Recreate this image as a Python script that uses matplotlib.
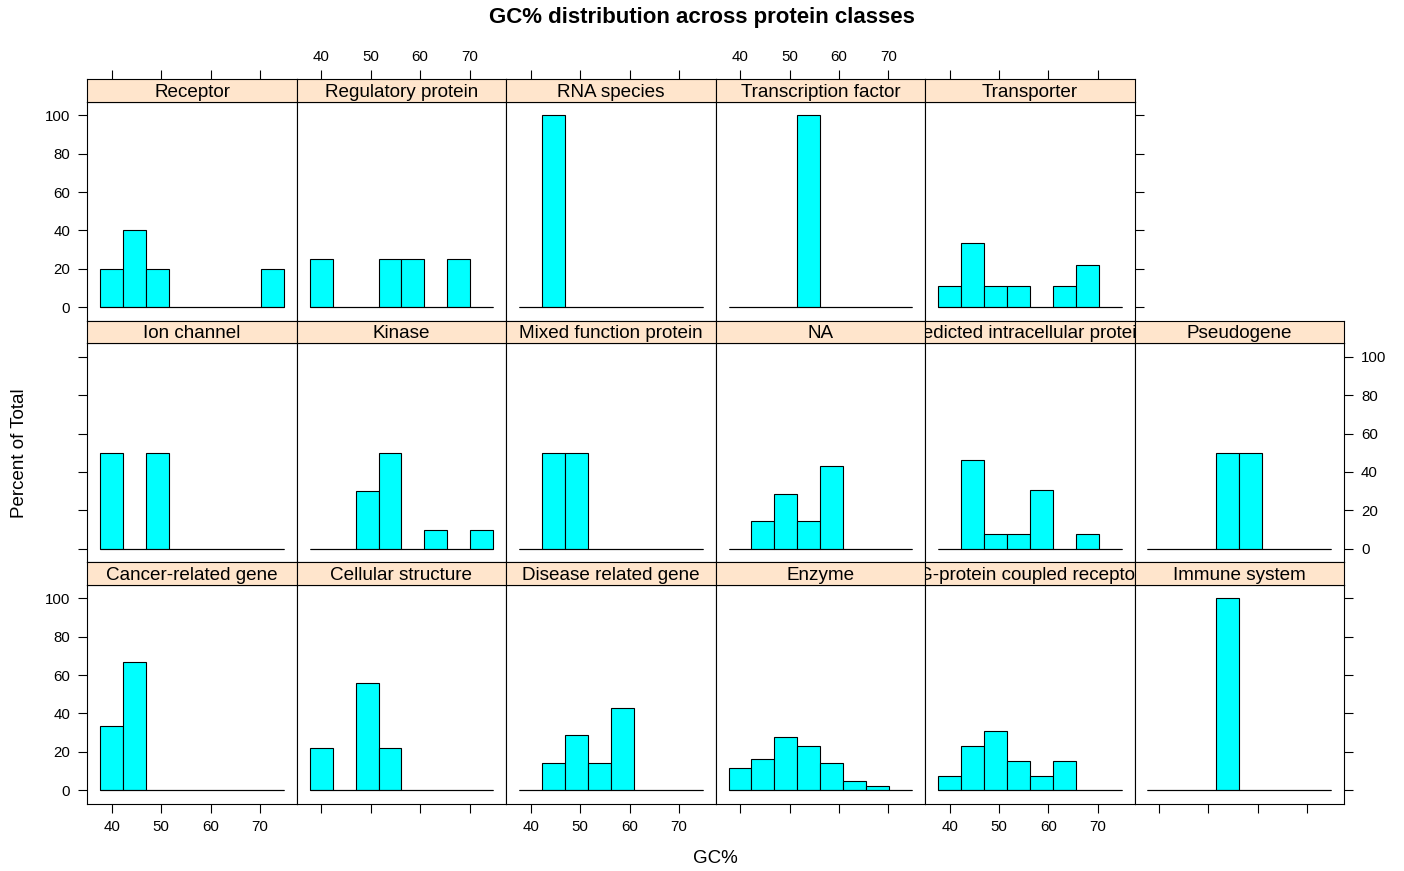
import numpy as np
import matplotlib
matplotlib.use("Agg")
import matplotlib.pyplot as plt

plt.rcParams['font.family'] = ['Liberation Sans', 'DejaVu Sans']

# ---- data (percent of total per GC% bin) ----
bin_edges = np.linspace(37.65, 74.82, 9)
x_ticks = [40, 50, 60, 70]
y_ticks = [0, 20, 40, 60, 80, 100]

# rows listed bottom -> top, as lattice does
row_bottom = ["Cancer-related gene", "Cellular structure", "Disease related gene",
              "Enzyme", "G-protein coupled receptor", "Immune system"]
row_middle = ["Ion channel", "Kinase", "Mixed function protein", "NA",
              "Predicted intracellular proteins", "Pseudogene"]
row_top = ["Receptor", "Regulatory protein", "RNA species",
           "Transcription factor", "Transporter"]

percent = {
    "Cancer-related gene":            [33.3, 66.7, 0, 0, 0, 0, 0, 0],
    "Cellular structure":             [22.2, 0, 55.6, 22.2, 0, 0, 0, 0],
    "Disease related gene":           [0, 14.3, 28.6, 14.3, 42.9, 0, 0, 0],
    "Enzyme":                         [11.6, 16.3, 27.9, 23.3, 14.0, 4.7, 2.3, 0],
    "G-protein coupled receptor":     [7.7, 23.1, 30.8, 15.4, 7.7, 15.4, 0, 0],
    "Immune system":                  [0, 0, 0, 100, 0, 0, 0, 0],
    "Ion channel":                    [50, 0, 50, 0, 0, 0, 0, 0],
    "Kinase":                         [0, 0, 30, 50, 0, 10, 0, 10],
    "Mixed function protein":         [0, 50, 50, 0, 0, 0, 0, 0],
    "NA":                             [0, 14.3, 28.6, 14.3, 42.9, 0, 0, 0],
    "Predicted intracellular proteins": [0, 46.2, 7.7, 7.7, 30.8, 0, 7.7, 0],
    "Pseudogene":                     [0, 0, 0, 50, 50, 0, 0, 0],
    "Receptor":                       [20, 40, 20, 0, 0, 0, 0, 20],
    "Regulatory protein":             [25, 0, 0, 25, 25, 0, 25, 0],
    "RNA species":                    [0, 100, 0, 0, 0, 0, 0, 0],
    "Transcription factor":           [0, 0, 0, 100, 0, 0, 0, 0],
    "Transporter":                    [11.1, 33.3, 11.1, 11.1, 0, 11.1, 22.2, 0],
}

W, H = 1404, 871
fig = plt.figure(figsize=(W / 100, H / 100), dpi=100)

left_px, right_px = 87.3, 1344.0
col_w = (right_px - left_px) / 6
top_px = 79.3
strip_h = 22.4
panel_h = 219.1
row_h = strip_h + panel_h

xlim = (35.05, 77.42)
ylim = (-7, 107)
lw = 0.8
tick_len = 6.3
tick_fs = 10.8

rows_top_down = [row_top, row_middle, row_bottom]

for ri, row in enumerate(rows_top_down):
    for ci, name in enumerate(row):
        x0 = left_px + ci * col_w
        ys = top_px + ri * row_h
        yp = ys + strip_h
        ax = fig.add_axes([x0 / W, 1 - (yp + panel_h) / H, col_w / W, panel_h / H])
        sx = fig.add_axes([x0 / W, 1 - (ys + strip_h) / H, col_w / W, strip_h / H])

        vals = percent[name]
        widths = np.diff(bin_edges)
        ax.bar(bin_edges[:-1], vals, width=widths, align='edge',
               color='#00FFFF', edgecolor='black', linewidth=lw)
        # zero-height bins drawn as baseline
        ax.hlines(0, bin_edges[0], bin_edges[-1], color='black', linewidth=lw)
        ax.set_xlim(xlim)
        ax.set_ylim(ylim)
        for sp in ax.spines.values():
            sp.set_linewidth(lw)

        # strip
        sx.set_facecolor('#FFE5CC')
        sx.set_xlim(xlim)
        sx.set_ylim(0, 1)
        sx.set_yticks([])
        for sp in sx.spines.values():
            sp.set_linewidth(lw)
        sx.text(0.5, 0.42, name, transform=sx.transAxes, ha='center', va='center',
                fontsize=13.6, clip_on=True)

        # x axis
        ax.set_xticks(x_ticks)
        sx.set_xticks(x_ticks)
        is_bottom = (ri == 2)
        is_top = (ri == 0)
        ax.tick_params(axis='x', direction='out', length=tick_len, width=lw,
                       bottom=is_bottom, top=False,
                       labelbottom=is_bottom and ci % 2 == 0, labeltop=False,
                       labelsize=tick_fs, pad=5.5)
        sx.tick_params(axis='x', direction='out', length=tick_len, width=lw,
                       bottom=False, top=is_top,
                       labelbottom=False, labeltop=is_top and ci % 2 == 1,
                       labelsize=tick_fs, pad=5.0)

        # y axis
        ax.set_yticks(y_ticks)
        is_left = (ci == 0)
        is_right = (ci == len(row) - 1)
        ax.tick_params(axis='y', direction='out', length=tick_len, width=lw,
                       left=is_left, right=is_right,
                       labelleft=is_left and ri != 1,
                       labelright=is_right and ri == 1,
                       labelsize=tick_fs, pad=6)

fig.text(0.5, 1 - 17 / H, "GC% distribution across protein classes",
         ha='center', va='center', fontsize=16, fontweight='bold')
fig.text((left_px + right_px) / 2 / W, 1 - 858 / H, "GC%", ha='center',
         va='center', fontsize=13.5)
fig.text(20 / W, 1 - 453 / H, "Percent of Total", ha='center', va='center',
         rotation=90, fontsize=13.5)

fig.savefig("out.png", dpi=100)
